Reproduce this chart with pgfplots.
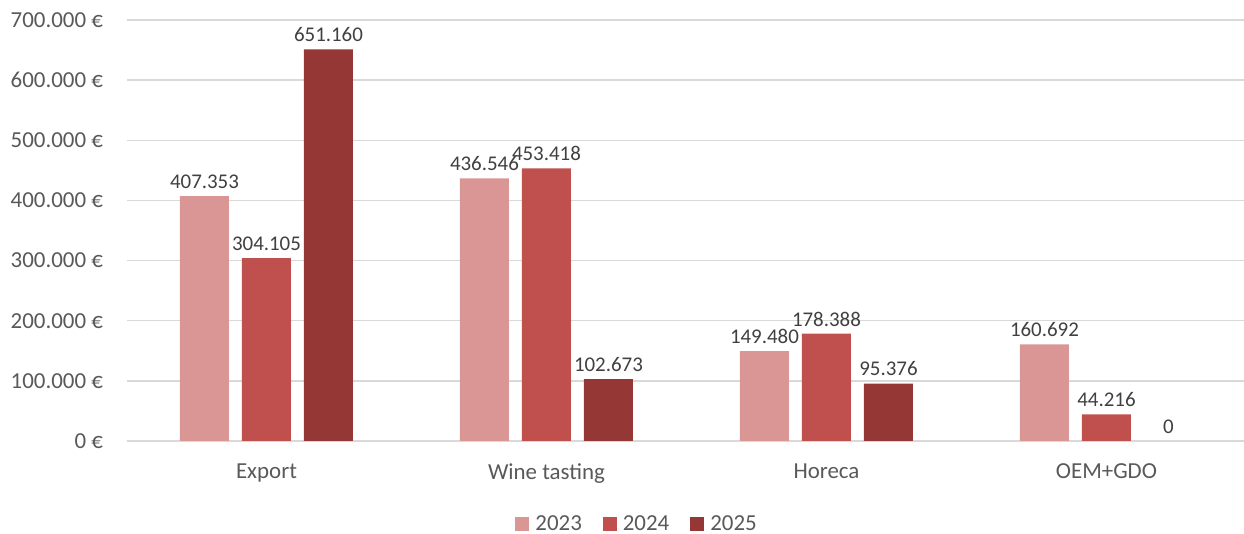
\documentclass[border=0pt]{standalone}
\usepackage{pgfplots}
\pgfplotsset{compat=1.18}
\usepackage{fontspec}
\setmainfont{Carlito}
\definecolor{c23}{HTML}{DA9694}
\definecolor{c24}{HTML}{C0504D}
\definecolor{c25}{HTML}{953735}
\definecolor{gridc}{HTML}{D9D9D9}
\definecolor{tickc}{HTML}{595959}
\definecolor{labc}{HTML}{404040}
\pgfplotsset{layers/mylayers/.define layer set={axis background,axis grid,pre main,main,axis ticks,axis lines,axis tick labels,axis descriptions,axis foreground}{}}
\begin{document}
\begin{tikzpicture}
\begin{axis}[
  set layers=mylayers,
  at={(0,0)}, anchor=south west,
  scale only axis,
  width=1120bp, height=421bp,
  ybar=13bp, bar width=49bp,
  xmin=-0.5, xmax=3.5,
  ymin=0, ymax=700000,
  xtick={0,1,2,3},
  xticklabels={Export, Wine tasting, Horeca, OEM+GDO},
  ytick={0,100000,200000,300000,400000,500000,600000,700000},
  yticklabel={\pgfmathprintnumber{\tick}~€},
  /pgf/number format/.cd, fixed, precision=0, 1000 sep={.}, assume math mode=true, /pgfplots/.cd,
  scaled y ticks=false,
  axis y line*=left,
  axis x line*=bottom,
  y axis line style={draw=none},
  x axis line style={draw=gridc, line width=1.5bp, -},
  ymajorgrids,
  grid style={draw=gridc, line width=1.5bp},
  major tick length=0pt,
  tick style={draw=none},
  ticklabel style={font=\fontsize{23}{27}\selectfont, text=tickc},
  yticklabel style={xshift=-20bp},
  xticklabel style={yshift=-19bp},
  nodes near coords={\pgfmathprintnumber[fixed, precision=0, 1000 sep={.}, assume math mode=true]{\pgfplotspointmeta}},
  every node near coord/.append style={font=\fontsize{21}{25}\selectfont, text=labc, yshift=4bp},
  legend columns=3,
  legend style={draw=none, fill=none, at={(0.455,-0.197)}, anchor=center,
    font=\fontsize{23}{27}\selectfont, text=tickc,
    nodes={inner sep=0pt},
    /tikz/every odd column/.append style={column sep=6bp},
    /tikz/every even column/.append style={column sep=21bp}},
  legend image code/.code={\fill[#1] (0bp,-7bp) rectangle (14bp,7bp);},
]
\addplot[fill=c23, draw=none] coordinates {(0,407353) (1,436546) (2,149480) (3,160692)};
\addplot[fill=c24, draw=none] coordinates {(0,304105) (1,453418) (2,178388) (3,44216)};
\addplot[fill=c25, draw=none] coordinates {(0,651160) (1,102673) (2,95376) (3,0)};
\legend{2023,2024,2025}
\end{axis}
\pgfresetboundingbox
\path[use as bounding box] (-126.5bp,-93bp) rectangle (1117.5bp,441bp);
\end{tikzpicture}
\end{document}
